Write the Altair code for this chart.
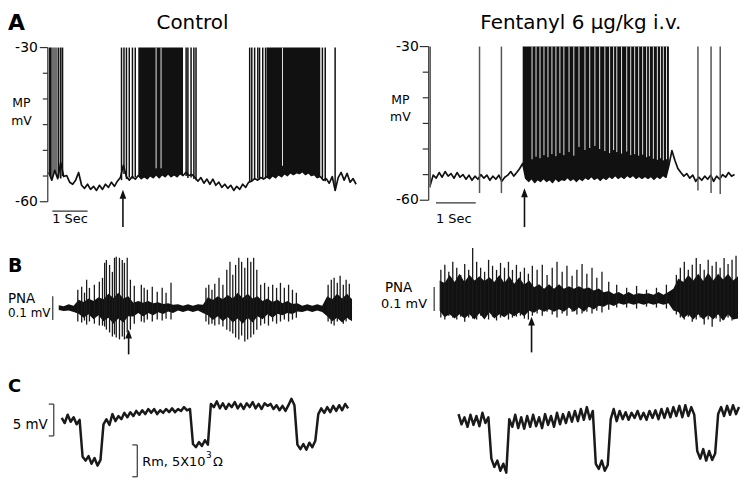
import altair as alt
import pandas as pd

W, H = 738, 470
FONT = "DejaVu Sans"
INK = "#111111"

# ============================== DATA ==============================
# ---- Panel A: membrane potential (mV), sampled at fixed interval (s)
ctrl_mp_dt = 0.0845
ctrl_mp = [-54.3, -55.8, -53.9, -55.5, -52.4, -55.1, -54.9, -56.2, -56.6, -55.8,
           -54.3, -56.8, -57.4, -56.6, -57.6, -57.0, -57.8, -56.8, -57.6, -56.6,
           -57.2, -56.2, -57.0, -56.0, -55.3, -52.9, -55.1, -55.8, -55.1, -55.6,
           -54.9, -55.5, -55.1, -55.5, -54.9, -55.3, -54.7, -55.3, -54.7, -55.1,
           -54.5, -55.1, -54.7, -55.1, -54.5, -54.9, -54.3, -54.9, -54.7, -55.3,
           -56.0, -55.3, -56.4, -55.6, -56.6, -55.6, -56.8, -56.2, -57.2, -56.6,
           -57.4, -56.8, -57.8, -57.0, -57.6, -56.6, -57.2, -56.2, -56.0, -55.5,
           -55.8, -55.3, -55.6, -55.1, -55.5, -54.9, -55.3, -54.7, -55.1, -54.5,
           -54.9, -54.3, -54.7, -54.3, -54.5, -54.1, -54.7, -54.3, -54.9, -54.7,
           -55.3, -55.1, -55.8, -55.5, -56.4, -55.1, -57.8, -55.3, -54.3, -55.8,
           -54.5, -56.2, -55.5, -56.6]
ctrl_burst_solid = [[0.0, 0.09], [2.50, 3.83], [6.15, 7.72]]
ctrl_burst_grey = [[0.08, 0.26]]
ctrl_spike_t = [0.28, 0.34, 0.39, 2.06, 2.13, 2.20, 2.28, 2.37, 2.45, 3.89, 3.94, 4.03,
                4.11, 4.17, 5.69, 5.75, 5.83, 5.92, 5.97, 6.06, 6.14, 7.75, 7.83, 8.11]
ctrl_spike_floor = [-55.3, -55.5, -55.0, -55.8, -54.6, -55.6, -55.3, -55.5, -55.2, -55.0, -55.4, -55.3,
                    -55.6, -55.8, -56.2, -56.0, -55.6, -55.5, -55.7, -55.4, -55.5, -55.4, -56.0, -57.8]
ctrl_gap_t = [3.04, 3.18, 6.62]
ctrl_gap_floor = [-53.5, -53.5, -53.0]

fent_mp_dt = 0.075
fent_mp = [-57.1, -55.1, -55.7, -54.6, -55.5, -54.4, -55.3, -54.8, -55.7, -54.6,
           -55.5, -55.0, -55.9, -55.1, -56.1, -55.3, -55.9, -55.0, -55.7, -55.1,
           -56.1, -55.3, -55.9, -55.1, -56.3, -55.5, -55.1, -54.4, -55.3, -54.6,
           -53.8, -52.8, -55.7, -56.3, -55.7, -56.5, -55.9, -56.3, -55.7, -56.3,
           -55.9, -56.5, -55.7, -56.3, -55.9, -56.1, -55.5, -56.1, -55.7, -56.3,
           -55.7, -56.1, -55.5, -55.9, -55.3, -55.9, -55.5, -56.1, -55.5, -55.9,
           -55.3, -55.7, -55.1, -55.7, -55.3, -55.7, -55.1, -55.5, -55.1, -55.7,
           -55.3, -55.7, -55.3, -55.7, -55.3, -55.9, -55.3, -55.7, -55.1, -55.5,
           -53.2, -50.3, -52.2, -53.8, -54.6, -55.3, -54.8, -55.7, -55.1, -56.3,
           -55.5, -56.1, -55.3, -55.9, -55.1, -56.3, -55.3, -55.9, -55.0, -55.5,
           -54.6, -55.3, -55.0]
fent_burst_solid = [[2.30, 6.01]]
fent_spike_t = [0.0, 1.24, 1.79, 6.73, 7.06, 7.29]
fent_spike_floor = [-57.5, -58.6, -58.6, -58.1, -58.6, -58.8]
fent_gap_t = [2.56, 2.66, 2.76, 2.86, 2.96, 3.06, 3.16, 3.26, 3.36, 3.49,
              3.61, 3.74, 3.89, 4.01, 4.14, 4.26, 4.39, 4.51, 4.61, 4.69,
              4.81, 4.94, 5.04, 5.14, 5.24, 5.34, 5.44, 5.51, 5.61, 5.71,
              5.79, 5.86, 5.94]
fent_gap_floor = [-52.0, -51.5, -51.8, -51.2, -51.6, -51.0, -51.4, -50.8, -51.2, -50.6,
                  -51.3, -49.6, -50.2, -49.8, -49.4, -50.0, -50.4, -50.8, -50.2, -50.6,
                  -50.9, -50.5, -51.2, -51.0, -51.3, -51.1, -51.6, -51.4, -51.9, -52.1,
                  -51.8, -52.2, -52.0]

mp_major = [-30, -60]
mp_minor = [-35, -40, -45, -50, -55]

# ---- Panel B: phrenic nerve activity (uV): band envelope + large spikes
ctrl_pna_dt = 0.1408
ctrl_pna_up = [12, 8, 16, 10, 35, 26, 40, 30, 46, 37, 60, 43, 65, 40, 50, 23, 30, 23, 30, 20,
               25, 17, 20, 14, 16, 10, 16, 10, 16, 14, 46, 34, 50, 37, 55, 40, 65, 43, 60, 40,
               50, 30, 40, 26, 35, 20, 30, 17, 20, 10, 16, 10, 16, 10, 50, 37, 60, 40, 60, 37]
ctrl_pna_lo = [8, 12, 10, 16, 23, 40, 26, 46, 30, 55, 40, 65, 43, 60, 34, 35, 20, 35, 20, 30,
               17, 25, 14, 20, 10, 16, 10, 16, 10, 20, 30, 50, 34, 55, 37, 60, 43, 65, 40, 60,
               34, 46, 26, 40, 23, 30, 20, 25, 14, 16, 10, 16, 10, 16, 34, 55, 40, 60, 40, 55]
ctrl_pna_spk_t = [0.54, 0.65, 0.73, 0.79, 0.87, 1.01, 1.15, 1.24, 1.30, 1.35, 1.44, 1.52, 1.58, 1.63,
                  1.72, 1.80, 1.86, 1.94, 2.03, 2.14, 2.34, 2.42, 2.51, 2.65, 2.79, 2.93, 3.04, 3.18,
                  4.17, 4.25, 4.34, 4.42, 4.54, 4.65, 4.76, 4.85, 4.93, 5.01, 5.10, 5.18, 5.27, 5.35,
                  5.44, 5.52, 5.61, 5.72, 5.83, 5.94, 6.06, 6.17, 6.28, 6.39, 6.51, 6.62, 6.73,
                  7.63, 7.72, 7.80, 7.89, 7.97, 8.06, 8.14, 8.23]
ctrl_pna_spk_top = [77, 90, 65, 119, 85, 98, 111, 127, 190, 202, 181, 152, 211, 215,
                    211, 202, 190, 211, 119, 94, 98, 85, 77, 90, 69, 85, 65, 106,
                    85, 98, 77, 102, 127, 98, 161, 194, 140, 181, 211, 194, 169, 211,
                    194, 211, 161, 98, 106, 90, 98, 85, 106, 85, 98, 77, 65,
                    98, 119, 127, 106, 136, 98, 119, 102]
ctrl_pna_spk_bot = [-56, -60, -52, -69, -56, -65, -73, -73, -77, -90, -102, -119, -110, -123,
                    -131, -119, -131, -102, -90, -65, -56, -60, -48, -56, -48, -52, -44, -48,
                    -56, -69, -65, -73, -69, -77, -90, -98, -106, -123, -131, -115, -140, -131,
                    -123, -110, -90, -73, -65, -73, -56, -65, -56, -48, -56, -48, -40,
                    -56, -65, -73, -56, -48, -65, -56, -48]

fent_pna_dt = 0.125
fent_pna_up = [77, 67, 101, 71, 106, 71, 101, 78, 95, 75, 91, 71, 101, 67, 95, 64, 91, 60, 77, 49,
               62, 43, 62, 43, 62, 43, 53, 43, 53, 43, 48, 36, 44, 28, 33, 21, 29, 18, 29, 18,
               24, 21, 24, 18, 29, 18, 29, 43, 86, 71, 101, 78, 106, 75, 110, 78, 106, 82, 106, 78, 95]
fent_pna_lo = [49, 77, 64, 82, 64, 82, 64, 86, 60, 86, 57, 82, 64, 77, 60, 72, 57, 72, 49, 58,
               43, 53, 43, 53, 43, 53, 36, 53, 36, 53, 32, 44, 28, 33, 21, 29, 18, 24, 18, 24,
               18, 24, 18, 24, 18, 24, 18, 48, 54, 82, 64, 86, 64, 86, 67, 86, 64, 91, 64, 86, 82]
fent_pna_spk_t = [0.03, 0.13, 0.23, 0.33, 0.43, 0.53, 0.63, 0.73, 0.83, 0.93, 1.03, 1.13, 1.23, 1.33,
                  1.43, 1.53, 1.63, 1.73, 1.83, 1.93, 2.03, 2.13, 2.23, 2.33,
                  2.45, 2.58, 2.70, 2.83, 2.95, 3.08, 3.20, 3.33, 3.45, 3.58, 3.70, 3.83, 3.95, 4.08,
                  4.25, 4.45, 4.70, 4.95, 5.20, 5.45, 5.70,
                  5.95, 6.05, 6.15, 6.25, 6.35, 6.45, 6.55, 6.65, 6.75, 6.85, 6.95, 7.05, 7.15,
                  7.25, 7.35, 7.45]
fent_pna_spk_top = [122, 143, 114, 156, 131, 101, 147, 122, 214, 156, 131, 114, 164, 139,
                    122, 151, 131, 156, 122, 143, 114, 131, 106, 139,
                    122, 143, 101, 131, 156, 114, 139, 97, 122, 147, 106, 131, 89, 114,
                    72, 60, 47, 55, 39, 47, 60,
                    101, 131, 156, 122, 143, 172, 147, 122, 164, 139, 156, 131, 172, 147, 164, 181]
fent_pna_spk_bot = [-78, -86, -70, -78, -86, -74, -95, -78, -82, -86, -70, -78, -86, -74,
                    -90, -78, -70, -86, -78, -74, -70, -82, -86, -70,
                    -61, -70, -53, -65, -78, -61, -70, -53, -65, -61, -53, -61, -49, -57,
                    -45, -36, -36, -40, -32, -36, -40,
                    -65, -78, -86, -74, -95, -86, -78, -107, -86, -116, -82, -95, -86, -78, -90, -82]

# ---- Panel C: voltage response to current pulses (mV)
ctrl_rm_dt = 0.0845
ctrl_rm = [3.3, 2.5, 3.8, 2.7, 3.4, 2.3, 3.0, -2.8, -3.4, -2.7,
           -3.9, -3.0, -4.2, -3.3, 2.3, 3.1, 2.2, 3.9, 2.8, 3.6,
           3.1, 4.1, 3.4, 4.2, 3.6, 4.4, 3.8, 4.5, 3.9, 4.7,
           4.1, 4.7, 3.9, 4.5, 4.1, 4.7, 4.2, 4.8, 4.2, 4.7,
           4.4, 5.0, 4.5, 4.7, -0.8, -1.3, -0.5, -1.1, -0.2, -0.9,
           5.5, 5.0, 5.9, 4.8, 5.6, 4.7, 5.5, 5.0, 5.8, 4.8,
           5.5, 4.7, 5.6, 5.0, 5.8, 4.8, 5.5, 4.7, 5.6, 5.2,
           5.5, 4.7, 5.3, 4.5, 5.2, 4.4, 5.3, 6.3, 5.3, -0.9,
           -1.6, -0.8, -1.7, -0.6, -1.3, -0.3, 3.9, 4.8, 4.1, 5.0,
           4.2, 5.2, 4.4, 5.3, 4.5, 5.5, 4.8]
fent_rm_dt = 0.075
fent_rm = [3.9, 2.3, 3.4, 1.9, 3.8, 2.2, 3.6, 2.0, 4.1, 2.5,
           3.4, -3.1, -4.4, -3.4, -5.0, -3.9, -5.3, 3.1, 1.9, 3.8,
           1.7, 3.4, 1.6, 3.6, 1.9, 3.8, 2.0, 3.4, 1.7, 3.9,
           2.2, 3.6, 1.9, 4.1, 2.3, 3.9, 2.5, 4.2, 2.7, 4.4,
           2.8, 4.7, 3.0, 5.0, 3.1, 4.4, -3.9, -4.7, -3.4, -5.0,
           -4.1, 3.1, 4.7, 2.8, 4.4, 3.1, 4.2, 3.0, 4.1, 3.3,
           4.4, 3.1, 4.1, 3.0, 4.4, 3.3, 4.5, 3.1, 4.7, 3.3,
           4.8, 3.4, 5.0, 3.6, 5.2, 3.4, 5.3, 3.6, 5.0, 3.8,
           -1.9, -3.1, -1.6, -3.4, -1.9, -3.3, -2.3, 3.9, 5.0, 3.6,
           5.2, 3.8, 5.3, 3.9, 5.0]

# ---- markers / calibrations
arrow_t = {"A_ctrl": 2.10, "A_fent": 2.37, "B_ctrl": 1.98, "B_fent": 2.31}
sec_bar_t0 = {"A_ctrl": 0.10, "A_fent": 0.145}
sec_bar_len = 1.0
pna_cal = [-50, 50]          # 0.1 mV
mv_cal = [0.47, 5.47]        # 5 mV
rm_cal = [-5.94, -0.94]      # 5x10^3 ohm

# ============================ GEOMETRY ============================
# x0: px of t=0, kx: px per s ; py: px of value pv, ky: px per unit
GEO = {
    "A_ctrl": dict(x0=41.0, kx=35.5, py=38.5, pv=-30.0, ky=5.1667),
    "A_fent": dict(x0=424.5, kx=40.0, py=37.5, pv=-30.0, ky=5.15),
    "B_ctrl": dict(x0=51.0, kx=35.5, py=300.5, pv=0.0, ky=0.24),
    "B_fent": dict(x0=434.0, kx=40.0, py=291.3, pv=0.0, ky=0.24),
    "C_ctrl": dict(x0=54.0, kx=35.5, py=432.0, pv=0.0, ky=6.4),
    "C_fent": dict(x0=453.0, kx=40.0, py=432.0, pv=0.0, ky=6.4),
}


def X(p, field="t"):
    g = GEO[p]
    return alt.X(f"{field}:Q", axis=None,
                 scale=alt.Scale(domain=[-g["x0"] / g["kx"], (W - g["x0"]) / g["kx"]],
                                 nice=False, zero=False))


def Y(p, field="v"):
    g = GEO[p]
    top = g["pv"] + g["py"] / g["ky"]
    bot = g["pv"] - (H - g["py"]) / g["ky"]
    return alt.Y(f"{field}:Q", axis=None,
                 scale=alt.Scale(domain=[bot, top], nice=False, zero=False))


def series(vals, dt):
    return pd.DataFrame({"t": [i * dt for i in range(len(vals))], "v": vals})


def windows(df, wins):
    parts = []
    for k, (a, b) in enumerate(wins):
        d = df[(df.t >= a - 1e-9) & (df.t <= b + 1e-9)].copy()
        d["seg"] = k
        parts.append(d)
    return pd.concat(parts, ignore_index=True)


def label(s, x, y, size=13, align="left", weight="normal"):
    return alt.Chart(alt.Data(values=[{}])).mark_text(
        text=s, font=FONT, fontSize=size, fontWeight=weight, align=align,
        baseline="alphabetic", color="#000"
    ).encode(x=alt.value(x), y=alt.value(y))


layers = []

# ======================= PANEL A =======================
def mp_panel(p, mp, dt, solid, grey, spk_t, spk_f, gap_t, gap_f, spike_color):
    df = series(mp, dt)
    out = []
    out.append(alt.Chart(windows(df, solid)).mark_area(color=INK, opacity=1).encode(
        x=X(p), y=Y(p), y2=alt.datum(max(mp_major)), detail="seg:N"))
    if grey:
        out.append(alt.Chart(windows(df, grey)).mark_area(color="#6e6e6e", opacity=1).encode(
            x=X(p), y=Y(p), y2=alt.datum(max(mp_major)), detail="seg:N"))
    out.append(alt.Chart(df).mark_line(color=INK, strokeWidth=1.7, strokeJoin="round").encode(
        x=X(p), y=Y(p)))
    out.append(alt.Chart(pd.DataFrame({"t": spk_t, "v": spk_f})).mark_rule(
        color=spike_color, strokeWidth=1.5).encode(x=X(p), y=Y(p), y2=alt.datum(max(mp_major))))
    out.append(alt.Chart(pd.DataFrame({"t": gap_t, "v": gap_f})).mark_rule(
        color="#e4e4e4", strokeWidth=1.0).encode(x=X(p), y=Y(p), y2=alt.datum(max(mp_major))))
    return out


def mp_axis(p, axis_px, label_px, major_len, minor_len):
    out = []
    out.append(alt.Chart(pd.DataFrame({"lo": [min(mp_major)], "hi": [max(mp_major)]})).mark_rule(
        color="#333", strokeWidth=1.2).encode(x=alt.value(axis_px), y=Y(p, "lo"), y2=alt.Y2("hi:Q")))
    out.append(alt.Chart(pd.DataFrame({"v": mp_major})).mark_rule(color="#333", strokeWidth=1.2).encode(
        x=alt.value(axis_px - major_len), x2=alt.value(axis_px), y=Y(p)))
    out.append(alt.Chart(pd.DataFrame({"v": mp_minor})).mark_rule(color="#333", strokeWidth=1.2).encode(
        x=alt.value(axis_px - minor_len), x2=alt.value(axis_px), y=Y(p)))
    out.append(alt.Chart(pd.DataFrame({"v": mp_major, "s": [str(v) for v in mp_major]})).mark_text(
        font=FONT, fontSize=14, align="right", baseline="middle", color="#000").encode(
        x=alt.value(label_px), y=Y(p), text="s:N"))
    return out


def arrow(p, tip, tail):
    d = pd.DataFrame({"t": [arrow_t[p]]})
    return [
        alt.Chart(d).mark_rule(color=INK, strokeWidth=1.6).encode(
            x=X(p), y=alt.value(tail), y2=alt.value(tip + 6)),
        alt.Chart(d).mark_point(shape="M0,-1L0.75,1L-0.75,1Z", size=80, filled=True,
                                color=INK, opacity=1, strokeWidth=0).encode(
            x=X(p), y=alt.value(tip + 4.5)),
    ]


def sec_bar(p, y_bar, y_text, align, field):
    t0 = sec_bar_t0[p]
    d = pd.DataFrame({"t": [t0], "t1": [t0 + sec_bar_len], "tm": [t0 + sec_bar_len / 2]})
    return [
        alt.Chart(d).mark_rule(color="#333", strokeWidth=1.2).encode(
            x=X(p, "t"), x2=alt.X2("t1:Q"), y=alt.value(y_bar)),
        alt.Chart(d).mark_text(text="1 Sec", font=FONT, fontSize=13, align=align,
                               baseline="alphabetic", color="#000").encode(
            x=X(p, field), y=alt.value(y_text)),
    ]


layers += mp_panel("A_ctrl", ctrl_mp, ctrl_mp_dt, ctrl_burst_solid, ctrl_burst_grey,
                   ctrl_spike_t, ctrl_spike_floor, ctrl_gap_t, ctrl_gap_floor, INK)
layers += mp_panel("A_fent", fent_mp, fent_mp_dt, fent_burst_solid, None,
                   fent_spike_t, fent_spike_floor, fent_gap_t, fent_gap_floor, "#555")
layers += mp_axis("A_ctrl", 40, 30, 8, 5)
layers += mp_axis("A_fent", 423, 413, 9, 6)
layers += arrow("A_ctrl", 181.5, 219)
layers += arrow("A_fent", 180, 219)
layers += sec_bar("A_ctrl", 203, 215, "center", "tm")
layers += sec_bar("A_fent", 194.7, 215, "left", "t")

# ======================= PANEL B =======================
def pna_panel(p, dt, up, lo, spk_t, spk_top, spk_bot, cal_px):
    band = pd.DataFrame({"t": [i * dt for i in range(len(up))], "hi": up, "lo": [-v for v in lo]})
    spk = pd.DataFrame({"t": spk_t, "top": spk_top, "bot": spk_bot})
    return [
        alt.Chart(band).mark_area(color=INK, opacity=1).encode(
            x=X(p), y=Y(p, "lo"), y2=alt.Y2("hi:Q")),
        alt.Chart(spk).mark_rule(color="#1a1a1a", strokeWidth=1.3).encode(
            x=X(p), y=Y(p, "bot"), y2=alt.Y2("top:Q")),
        alt.Chart(pd.DataFrame({"lo": [pna_cal[0]], "hi": [pna_cal[1]]})).mark_rule(
            color="#333", strokeWidth=1.2).encode(x=alt.value(cal_px), y=Y(p, "lo"), y2=alt.Y2("hi:Q")),
    ]


layers += pna_panel("B_ctrl", ctrl_pna_dt, ctrl_pna_up, ctrl_pna_lo,
                    ctrl_pna_spk_t, ctrl_pna_spk_top, ctrl_pna_spk_bot, 45)
layers += pna_panel("B_fent", fent_pna_dt, fent_pna_up, fent_pna_lo,
                    fent_pna_spk_t, fent_pna_spk_top, fent_pna_spk_bot, 428.5)
layers += arrow("B_ctrl", 322, 347)
layers += arrow("B_fent", 309, 345)

# ======================= PANEL C =======================
def bracket(p, px, rng, serif=5):
    return [
        alt.Chart(pd.DataFrame({"lo": [rng[0]], "hi": [rng[1]]})).mark_rule(
            color="#444", strokeWidth=1.3).encode(x=alt.value(px), y=Y(p, "lo"), y2=alt.Y2("hi:Q")),
        alt.Chart(pd.DataFrame({"v": rng})).mark_rule(color="#444", strokeWidth=1.3).encode(
            x=alt.value(px - serif), x2=alt.value(px), y=Y(p)),
    ]


for p, vals, dt in [("C_ctrl", ctrl_rm, ctrl_rm_dt), ("C_fent", fent_rm, fent_rm_dt)]:
    layers.append(alt.Chart(series(vals, dt)).mark_line(
        color="#1a1a1a", strokeWidth=2.5, strokeJoin="round").encode(x=X(p), y=Y(p)))
layers += bracket("C_ctrl", 46, mv_cal)
layers += bracket("C_ctrl", 130, rm_cal)

# ======================= LABELS =======================
layers += [
    label("A", 0, 21, size=22, weight="bold"),
    label("Control", 185.5, 19.5, size=20, align="center"),
    label("Fentanyl 6 \u03bcg/kg i.v.", 576, 19.5, size=20, align="center"),
    label("MP", 13.5, 98, size=12.5, align="center"),
    label("mV", 13.5, 116, size=12.5, align="center"),
    label("MP", 394.5, 95, size=12.5, align="center"),
    label("mV", 394.5, 112, size=12.5, align="center"),
    label("B", 0, 264, size=19, weight="bold"),
    label("PNA", 0, 295, size=13.5),
    label("0.1 mV", 0, 309, size=12),
    label("PNA", 379, 284, size=13.5),
    label("0.1 mV", 375, 300, size=13),
    label("C", 0, 385, size=18, weight="bold"),
    label("5 mV", 40, 422, size=13.5, align="right"),
    label("Rm, 5X10", 135, 459, size=13),
    label("3", 199, 451, size=9),
    label("\u03a9", 206, 459, size=13),
]

chart = alt.layer(*layers).resolve_scale(x="independent", y="independent").properties(
    width=W, height=H, padding=0, autosize=alt.AutoSizeParams(type="none")
).configure_view(strokeWidth=0)

chart.save("out.html", embed_options={"renderer": "svg", "actions": False})
